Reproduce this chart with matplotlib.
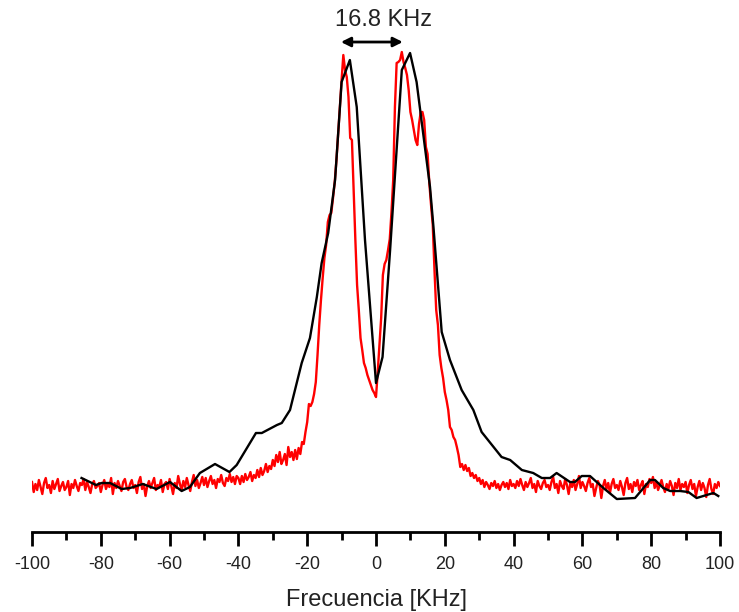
import matplotlib

matplotlib.use("Agg")
import matplotlib.pyplot as plt
import numpy as np

plt.rcParams["font.family"] = ["Liberation Sans", "DejaVu Sans"]
plt.rcParams["axes.unicode_minus"] = False

# red trace, sampled every 0.5 kHz from -100 to 100 (arbitrary intensity)
red_freq = np.arange(-100, 100.25, 0.5)
red_left_wing = [
    8, -2, 6, 0, 10, 3, -4, 7, 12, 2, 5, -3, 9, 1, 6, 11, -1, 4, 8, 0,
    3, 9, -5, 6, 2, 10, 4, -1, 7, 5, 11, 0, 8, 3, -3, 6, 9, 2, 4, 7,
    -2, 5, 10, 1, 6, 3, 12, -4, 7, 2, 9, 4, -1, 8, 11, 3, 0, 6, 10, 2,
    5, -3, 8, 13, 1, 6, -6, 4, 9, 2, 7, 12, 0, 5, 3, 10, -2, 6, 8, 1,
    11, 4, -4, 7, 2, 14, 6, 0, 9, 3, 12, 5, -1, 8, 15, 4, 10, 2, 7, 13,
    5, 12, 3, 9, 14, 6, 10, 2, 11, 8, 15, 7, 4, 12, 9, 16, 8, 13, 6, 14,
    12, 6, 14, 8, 16, 10, 13, 18, 9, 15, 12, 20, 13, 22, 15, 19, 26, 18, 24, 21,
    30, 24, 35, 28, 38, 26, 30, 36, 25, 43, 33, 38, 30, 40, 31, 42, 36, 48, 46, 58,
]
red_center = [
    68, 86, 84, 88, 96, 108, 135, 165, 190, 212,
    232, 245, 268, 275, 277, 292, 308, 330, 356, 383,
    410, 435, 420, 413, 393, 352, 350, 300, 250, 205,
    180, 152, 140, 127, 122, 115, 110, 105, 100, 97,
    93, 118, 145, 172, 215, 226, 230, 240, 251, 278,
    310, 383, 427, 428, 430, 438, 428, 422, 415, 400,
    378, 370, 360, 350, 345, 366, 378, 378, 370, 343,
    336, 307, 285, 265, 220, 180, 165, 135, 122, 112,
    98, 90, 80, 63, 60, 53, 50, 43, 35, 23,
    26, 20, 25, 19, 22, 14, 17, 12, 15, 9,
]
red_right_wing = [
    12, 6, 10, 3, 8, 5, 1, 7, 4, 9, 2, 6, 0, 5, 8, 3, 7, 1, 10, 4,
    6, 2, 9, 4, 11, 5, 0, 8, 3, 7, 12, 2, 6, -2, 9, 4, 1, 7, 10, 3,
    5, 0, 8, 13, 2, 6, -3, 9, 4, 1, 11, 5, -4, 7, 3, 10, 0, 6, 14, 2,
    8, 4, -1, 7, 12, 3, 6, -6, 2, 9, 5, -8, 4, 10, 1, 7, -3, 6, 11, 2,
    5, 0, 9, 3, -5, 7, 12, 1, 6, -2, 8, 4, 10, 0, 5, 9, -4, 6, 3, 11,
    7, 13, 2, 8, 0, 5, 10, 3, -2, 6, 1, 9, 4, -5, 7, 2, 11, 0, 6, 3,
    8, -3, 5, 10, 1, 6, -6, 3, 9, 0, 7, 2, -7, 5, 11, 1, -4, 6, 2, 8,
    4,
]
red_intensity = red_left_wing + red_center + red_right_wing

# black trace, coarser sampling
black_freq = [
    -85.6, -81.4, -79.8, -77.3, -73.9, -71.5, -67.8, -63.8, -59.9, -56.5,
    -54.1, -51.2, -46.8, -42.6, -40.5, -34.9, -33.2, -28.8, -27.4, -25.0,
    -21.6, -19.2, -17.2, -15.8, -13.9, -11.9, -10.0, -7.6, -5.6, -3.2,
    0.0, 1.9, 4.1, 7.5, 9.9, 11.8, 15.7, 16.7, 19.1, 21.5,
    24.9, 28.3, 30.7, 36.5, 39.0, 42.4, 45.7, 48.2, 50.6, 52.5,
    56.4, 57.8, 59.8, 62.2, 66.1, 70.0, 75.3, 79.7, 81.1, 83.5,
    85.5, 88.4, 90.8, 93.2, 96.1, 98.1, 99.5,
]
black_intensity = [
    12, 5, 7, 7, 1, 2, 6, 1, 8, -1,
    3, 17, 26, 18, 25, 57, 57, 65, 67, 80,
    127, 152, 193, 227, 257, 310, 408, 430, 383, 250,
    107, 133, 240, 420, 437, 408, 303, 263, 158, 130,
    100, 80, 58, 33, 30, 20, 17, 12, 12, 17,
    8, 8, 14, 14, 2, -9, -8, 10, 10, 2,
    -1, -1, -2, -8, -5, -3, -6,
]

splitting_label = "16.8 KHz"
splitting_start, splitting_end = -10.2, 7.8

fig = plt.figure(figsize=(7.39, 6.12), dpi=100)
ax = fig.add_axes([0.0433, 0.1307, 0.931, 0.8366])

ax.plot(red_freq, red_intensity, color="#ff0000", lw=1.7)
ax.plot(black_freq, black_intensity, color="black", lw=1.7)

ax.annotate(
    "",
    xy=(splitting_start, 448),
    xytext=(splitting_end, 448),
    arrowprops=dict(arrowstyle="<|-|>", color="black", lw=2, mutation_scale=14,
                    shrinkA=0, shrinkB=0),
    annotation_clip=False,
)
ax.text(2.2, 470, splitting_label, ha="center", va="center", fontsize=17,
        color="#222222", clip_on=False)

ax.set_xlim(-100, 100)
ax.set_ylim(-42, 470)
ax.set_xticks(np.arange(-100, 101, 20))
ax.set_xticks(np.arange(-90, 100, 20), minor=True)
ax.set_yticks([])
for side in ["top", "right", "left"]:
    ax.spines[side].set_visible(False)
ax.spines["bottom"].set_linewidth(2)
ax.tick_params(axis="x", which="major", length=10, width=2, labelsize=13, pad=7,
               labelcolor="#222222")
ax.tick_params(axis="x", which="minor", length=6, width=2)
ax.set_xlabel("Frecuencia [KHz]", fontsize=17, labelpad=12, color="#222222")

fig.savefig("out.png", dpi=100)
